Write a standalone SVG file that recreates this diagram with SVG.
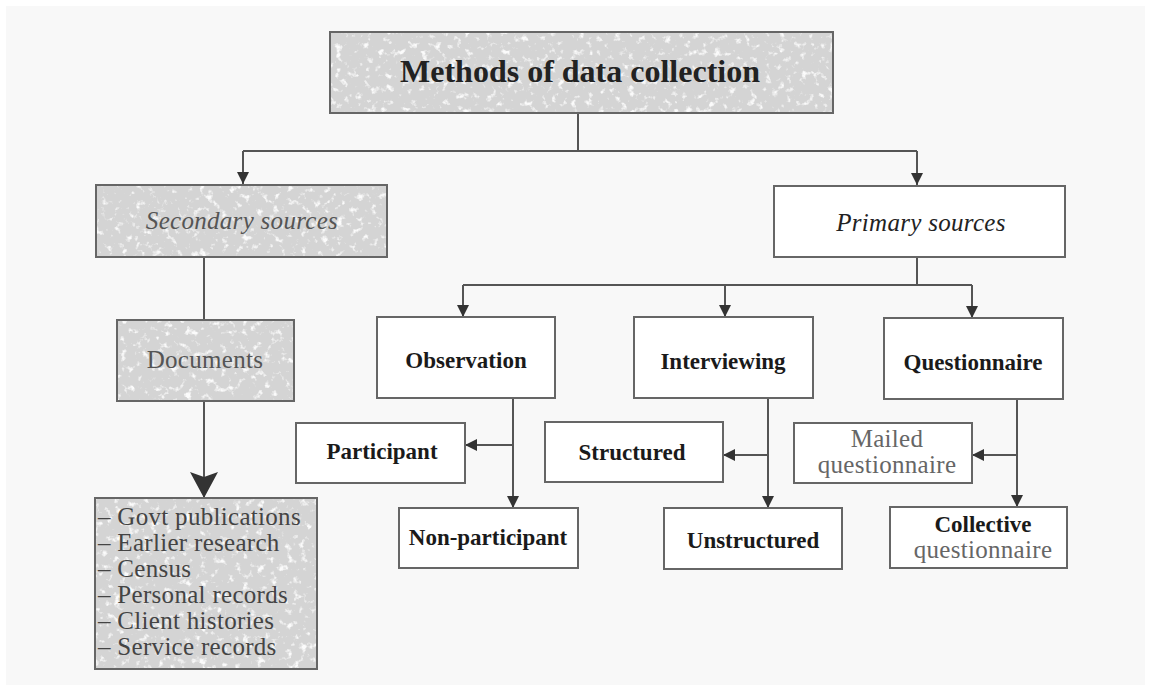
<svg xmlns="http://www.w3.org/2000/svg" width="1151" height="691" viewBox="0 0 1151 691">
  <style>
    .box { fill: #ffffff; stroke: #666; stroke-width: 2; }
    .frame { fill: none; stroke: #666; stroke-width: 2; }
    .shade { fill: #d4d4d4; }
    .conn { fill: none; stroke: #555; stroke-width: 2; }
    .t { font-family: "Liberation Serif", "DejaVu Serif", serif; text-anchor: middle; }
    .bold { font-weight: bold; font-size: 23px; fill: #1a1a1a; }
    .ital { font-style: italic; font-size: 25px; letter-spacing: 0.3px; }
    .plain { font-size: 25px; letter-spacing: 0.3px; }
    .list { font-family: "Liberation Serif", "DejaVu Serif", serif; font-size: 25px; letter-spacing: 0.3px; fill: #444; }
  </style>
  <defs>
    <!-- fine light speckle for the shaded boxes -->
    <filter id="mottle" x="0" y="0" width="100%" height="100%">
      <feTurbulence type="fractalNoise" baseFrequency="0.14" numOctaves="3" seed="7" result="n"/>
      <feColorMatrix in="n" type="matrix" values="0 0 0 0 0.96  0 0 0 0 0.96  0 0 0 0 0.96  5 0 0 0 -2.9" result="spots"/>
      <feComposite in="spots" in2="SourceGraphic" operator="in" result="clip"/>
      <feMerge>
        <feMergeNode in="SourceGraphic"/>
        <feMergeNode in="clip"/>
      </feMerge>
    </filter>
    <marker id="arrow" viewBox="0 0 12 12" markerUnits="userSpaceOnUse" markerWidth="12" markerHeight="12" refX="12" refY="6" orient="auto">
      <path d="M0,0 L12,6 L0,12 z" fill="#333"/>
    </marker>
    <marker id="bigArrow" viewBox="0 0 26 28" markerUnits="userSpaceOnUse" markerWidth="26" markerHeight="28" refX="26" refY="14" orient="auto">
      <path d="M0,0 L26,14 L0,28 L5,14 z" fill="#333"/>
    </marker>
  </defs>

  <rect x="0" y="0" width="1151" height="691" fill="#ffffff"/>
  <rect x="6" y="6" width="1139" height="679" fill="#f8f8f8"/>

  <!-- connectors -->
  <g id="connectors" class="conn">
    <path d="M578,113 V151"/>
    <path d="M243,151 H917"/>
    <path d="M243,151 V184" marker-end="url(#arrow)"/>
    <path d="M917,151 V185" marker-end="url(#arrow)"/>
    <path d="M204,257 V320"/>
    <path d="M204,401 V498" marker-end="url(#bigArrow)"/>
    <path d="M917,257 V285"/>
    <path d="M463,285 H972"/>
    <path d="M463,285 V317" marker-end="url(#arrow)"/>
    <path d="M725,285 V317" marker-end="url(#arrow)"/>
    <path d="M972,285 V318" marker-end="url(#arrow)"/>
    <path d="M513,398 V508" marker-end="url(#arrow)"/>
    <path d="M513,445 H465" marker-end="url(#arrow)"/>
    <path d="M768,398 V508" marker-end="url(#arrow)"/>
    <path d="M768,455 H723" marker-end="url(#arrow)"/>
    <path d="M1017,399 V507" marker-end="url(#arrow)"/>
    <path d="M1017,455 H972" marker-end="url(#arrow)"/>
  </g>

  <g id="methods">
    <rect class="shade" x="330" y="32" width="503" height="81" filter="url(#mottle)"/>
    <rect class="frame" x="330" y="32" width="503" height="81"/>
    <text class="t" x="580" y="82" font-size="32" font-weight="bold" fill="#222">Methods of data collection</text>
  </g>

  <g id="secondary">
    <rect class="shade" x="96" y="185" width="291" height="72" filter="url(#mottle)"/>
    <rect class="frame" x="96" y="185" width="291" height="72"/>
    <text class="t ital" x="242" y="229" fill="#555">Secondary sources</text>
  </g>

  <g id="primary">
    <rect class="box" x="774" y="186" width="291" height="71"/>
    <text class="t ital" x="921" y="231" fill="#222">Primary sources</text>
  </g>

  <g id="documents">
    <rect class="shade" x="117" y="320" width="177" height="81" filter="url(#mottle)"/>
    <rect class="frame" x="117" y="320" width="177" height="81"/>
    <text class="t plain" x="205" y="368" fill="#555">Documents</text>
  </g>

  <g id="sources-list">
    <rect class="shade" x="95" y="498" width="222" height="171" filter="url(#mottle)"/>
    <rect class="frame" x="95" y="498" width="222" height="171"/>
    <text class="list" x="98" y="525">– Govt publications</text>
    <text class="list" x="98" y="551">– Earlier research</text>
    <text class="list" x="98" y="577">– Census</text>
    <text class="list" x="98" y="603">– Personal records</text>
    <text class="list" x="98" y="629">– Client histories</text>
    <text class="list" x="98" y="655">– Service records</text>
  </g>

  <g id="observation">
    <rect class="box" x="377" y="317" width="178" height="81"/>
    <text class="t bold" x="466" y="368">Observation</text>
  </g>

  <g id="interviewing">
    <rect class="box" x="634" y="317" width="179" height="81"/>
    <text class="t bold" x="723" y="369">Interviewing</text>
  </g>

  <g id="questionnaire">
    <rect class="box" x="884" y="318" width="179" height="81"/>
    <text class="t bold" x="973" y="370">Questionnaire</text>
  </g>

  <g id="participant">
    <rect class="box" x="296" y="423" width="169" height="60"/>
    <text class="t bold" x="382" y="459">Participant</text>
  </g>

  <g id="non-participant">
    <rect class="box" x="399" y="508" width="179" height="60"/>
    <text class="t bold" x="488" y="545">Non-participant</text>
  </g>

  <g id="structured">
    <rect class="box" x="545" y="422" width="178" height="60"/>
    <text class="t bold" x="632" y="460">Structured</text>
  </g>

  <g id="unstructured">
    <rect class="box" x="664" y="508" width="178" height="61"/>
    <text class="t bold" x="753" y="548">Unstructured</text>
  </g>

  <g id="mailed">
    <rect class="box" x="794" y="423" width="178" height="60"/>
    <text class="t plain" x="887" y="447" fill="#666">Mailed</text>
    <text class="t plain" x="887" y="473" fill="#666">questionnaire</text>
  </g>

  <g id="collective">
    <rect class="box" x="890" y="507" width="177" height="61"/>
    <text class="t bold" x="983" y="532">Collective</text>
    <text class="t plain" x="983" y="558" fill="#666">questionnaire</text>
  </g>
</svg>
